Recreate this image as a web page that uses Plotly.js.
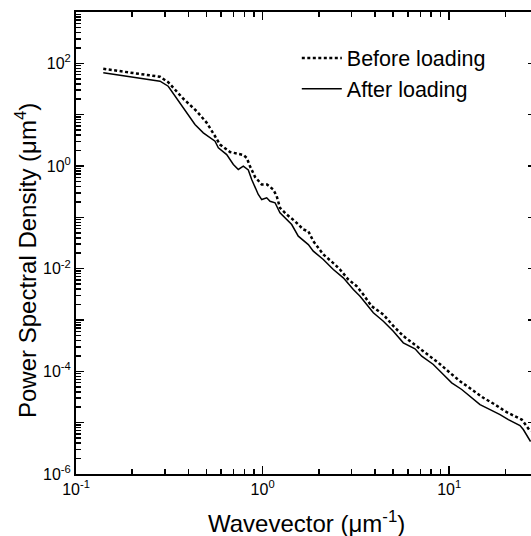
<!DOCTYPE html>
<html><head><meta charset="utf-8">
<script src="https://cdn.plot.ly/plotly-3.0.1.min.js"></script>
<style>html,body{margin:0;padding:0;overflow:hidden;background:#fff}</style>
</head><body><div id="chart" style="width:540px;height:536px"></div>
<script>
// Before loading (dashed)
const beforeX = [0.140,0.282,0.312,0.376,0.443,0.502,0.556,0.591,0.669,0.788,0.822,0.856,0.911,0.989,1.056,1.141,1.19,1.239,1.346,1.491,1.653,1.758,1.869,2.115,2.443,2.599,2.879,3.194,3.465,3.843,4.436,5.017,5.675,6.695,7.575,8.743,10.1,11.43,13.2,15.23,17.6,19.91,22.52,24.46,26.03,27.28];
const beforeY = [78.2,54.7,42.9,20.4,11.7,6.94,3.80,2.62,1.87,1.64,1.44,0.99,0.611,0.436,0.436,0.348,0.258,0.153,0.1135,0.084,0.058,0.0537,0.0343,0.0189,0.012,0.00962,0.00615,0.00455,0.00313,0.00185,0.00128,0.000764,0.000488,0.000308,0.000212,0.000147,0.0000935,0.0000641,0.0000443,0.0000305,0.0000225,0.0000167,0.0000133,0.0000115,0.0000085,0.0000067];
// After loading (solid)
const afterX = [0.140,0.282,0.312,0.361,0.408,0.434,0.481,0.556,0.579,0.642,0.697,0.741,0.788,0.838,0.874,0.911,0.948,0.989,1.052,1.096,1.166,1.239,1.318,1.432,1.553,1.758,1.869,2.115,2.393,2.707,3.063,3.327,3.613,3.920,4.436,5.017,5.675,6.556,7.122,8.220,9.298,10.31,11.67,13.20,14.62,16.55,18.72,20.74,23.0,23.95,24.95,26.54,27.28];
const afterY = [65.4,44.9,35.8,17.0,9.33,6.43,4.43,3.04,2.26,1.67,1.07,0.855,0.99,0.835,0.546,0.376,0.279,0.222,0.240,0.206,0.192,0.122,0.098,0.0724,0.0429,0.0295,0.0219,0.0151,0.00962,0.00664,0.00393,0.0029,0.002,0.00138,0.000946,0.000604,0.000359,0.000275,0.000197,0.000136,0.0000867,0.0000597,0.0000443,0.0000305,0.0000225,0.000018,0.0000144,0.0000115,0.0000096,0.0000088,0.00000735,0.00000507,0.00000429];

const seriesNames = ['Before loading','After loading'];
const xTickVals = [0.1,1,10];
const xTickText = ['10<sup>-1</sup>','10<sup>0</sup>','10<sup>1</sup>'];
const yTickVals = [1e-6,1e-4,1e-2,1,100];
const yTickText = ['10<sup>-6</sup>','10<sup>-4</sup>','10<sup>-2</sup>','10<sup>0</sup>','10<sup>2</sup>'];
const yOddDecades = [1e-5,1e-3,1e-1,10,1000];
const xTitle = 'Wavevector (\u03bcm<sup>-1</sup>)';
const yTitle = 'Power Spectral Density (\u03bcm<sup>4</sup>)';

function minorVals(lo, hi){
  const v=[];
  for(let e=lo;e<hi;e++){for(let d=2;d<=9;d++){v.push(d*Math.pow(10,e));}}
  return v;
}

const FONT = '"Liberation Sans", Arial, sans-serif';

const traces = [
  {x: beforeX, y: beforeY, name: seriesNames[0], mode: 'lines',
   line: {color: '#000', width: 2.5, dash: '3px,2.5px'}},
  {x: afterX, y: afterY, name: seriesNames[1], mode: 'lines',
   line: {color: '#000', width: 1.5}}
];

const axisCommon = {
  type: 'log', showline: true, linecolor: '#000', linewidth: 2,
  mirror: 'ticks', ticks: 'inside', ticklen: 8, tickwidth: 1.5, tickcolor: '#000',
  showgrid: false, zeroline: false, tickmode: 'array',
  tickfont: {family: FONT, size: 16, color: '#000'}
};

const layout = {
  width: 540, height: 536,
  margin: {l: 76, r: 4, t: 12, b: 62},
  paper_bgcolor: '#fff', plot_bgcolor: '#fff',
  font: {family: FONT, color: '#000'},
  showlegend: true,
  legend: {x: 0.48, y: 0.945, xanchor: 'left', yanchor: 'top', bgcolor: 'rgba(0,0,0,0)',
           font: {family: FONT, size: 21.5, color: '#000'}, itemwidth: 40, tracegroupgap: 0},
  xaxis: Object.assign({}, axisCommon, {
    range: [-1, 1.465], tickvals: xTickVals, ticktext: xTickText,
    minor: {tickmode: 'array', tickvals: minorVals(-1, 2), ticks: 'inside', ticklen: 5, tickwidth: 1.5, tickcolor: '#000', showgrid: false}
  }),
  yaxis: Object.assign({}, axisCommon, {
    range: [-6, 3], tickvals: yTickVals, ticktext: yTickText,
    minor: {tickmode: 'array', tickvals: minorVals(-6, 3), ticks: 'inside', ticklen: 5, tickwidth: 1.5, tickcolor: '#000', showgrid: false}
  }),
  yaxis2: Object.assign({}, axisCommon, {
    overlaying: 'y', side: 'left', range: [-6, 3], tickvals: yOddDecades,
    showticklabels: false, showline: false
  }),
  annotations: [
    {text: xTitle, xref: 'paper', yref: 'paper', x: 0.5, y: (474 - 522) / 462,
     xanchor: 'center', yanchor: 'middle', showarrow: false,
     font: {family: FONT, size: 24, color: '#000'}},
    {text: yTitle, xref: 'paper', yref: 'paper', x: (26 - 76) / 460, y: (474 - 261) / 462,
     xanchor: 'center', yanchor: 'middle', showarrow: false, textangle: -90,
     font: {family: FONT, size: 24, color: '#000'}}
  ]
};

// a hidden trace so yaxis2 is drawn
traces.push({x: [afterX[0]], y: [afterY[0]], yaxis: 'y2', mode: 'lines', showlegend: false,
             hoverinfo: 'skip', line: {color: 'rgba(0,0,0,0)'}});

Plotly.newPlot('chart', traces, layout, {displayModeBar: false, staticPlot: true});
</script></body></html>
